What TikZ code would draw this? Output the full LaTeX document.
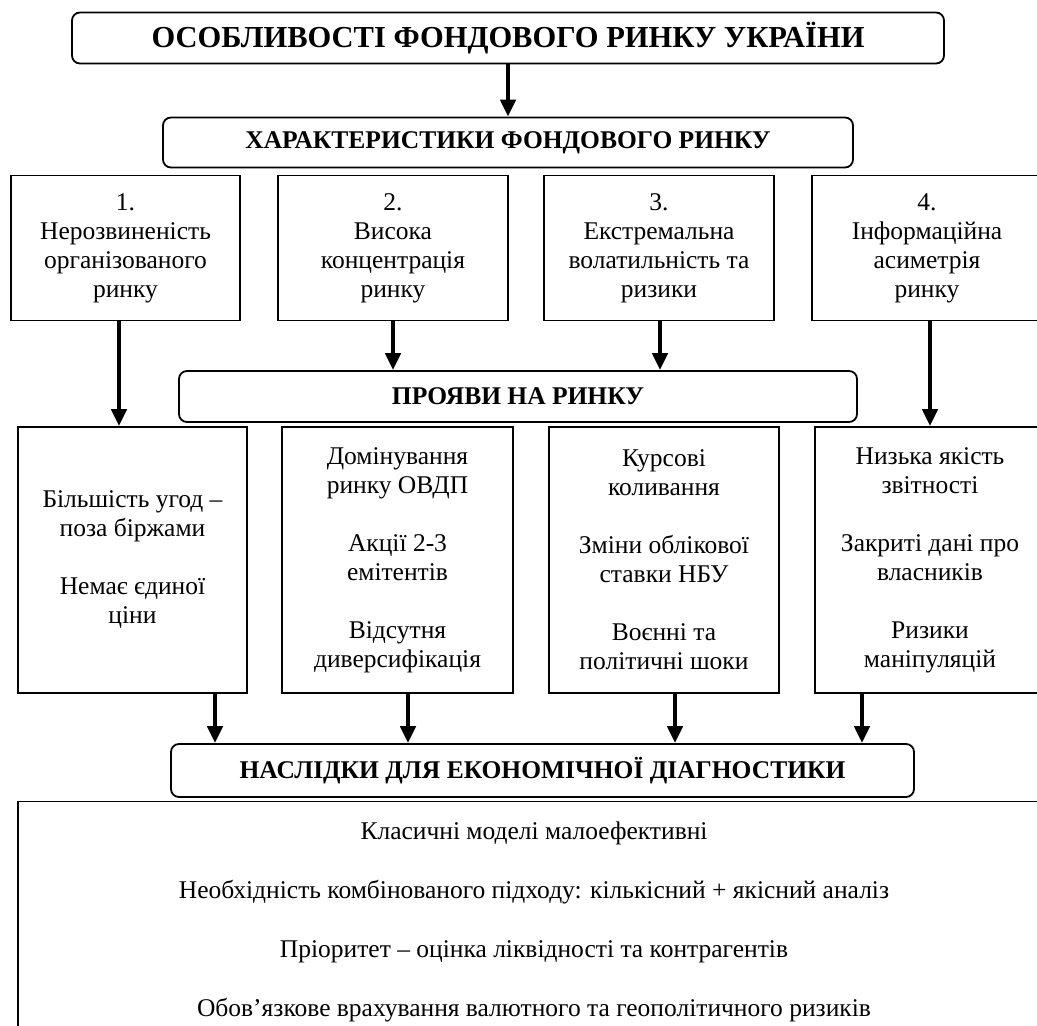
\documentclass[tikz,border=0pt]{standalone}
\usepackage{fontspec}
\setmainfont{Liberation Serif}
\usetikzlibrary{arrows.meta}

\begin{document}
\begin{tikzpicture}[x=1pt, y=-1pt,
    head/.style={draw, line width=1.8pt, rounded corners=8pt, inner sep=0pt,
      font=\bfseries\fontsize{25.5}{29}\selectfont},
    cell/.style={draw, line width=1.8pt, inner sep=0pt, align=center,
      font=\fontsize{25.5}{29}\selectfont},
    arr/.style={line width=4.5pt, -{Triangle[length=17pt,width=15pt]}}]
  \useasboundingbox (0,0) rectangle (1037,1026);
  % top of the scheme
  \node[head, minimum width=872pt, minimum height=51pt, font=\bfseries\fontsize{30.5}{34}\selectfont]
    (title) at (508,38) {ОСОБЛИВОСТІ ФОНДОВОГО РИНКУ УКРАЇНИ};
  \node[head, minimum width=690pt, minimum height=50pt] (chars) at (508,142.5)
    {ХАРАКТЕРИСТИКИ ФОНДОВОГО РИНКУ};
  \draw[arr] (title.south) -- (title.south |- chars.north);

  % characteristics
  \node[cell, minimum width=229pt, minimum height=145pt] (c1) at (125.5,248)
    {1.\\Нерозвиненість\\організованого\\ринку};
  \node[cell, minimum width=230pt, minimum height=145pt] (c2) at (393,248)
    {2.\\Висока\\концентрація\\ринку};
  \node[cell, minimum width=230pt, minimum height=145pt] (c3) at (659,248)
    {3.\\Екстремальна\\волатильність та\\ризики};
  \node[cell, minimum width=230pt, minimum height=145pt] (c4) at (927,248)
    {4.\\Інформаційна\\асиметрія\\ринку};

  \node[head, minimum width=678pt, minimum height=51pt] (shows) at (518,396.5)
    {ПРОЯВИ НА РИНКУ};

  % manifestations
  \node[cell, minimum width=229pt, minimum height=266pt] (m1) at (132.5,560)
    {Більшість угод –\\поза біржами\\[29pt]Немає єдиної\\ціни};
  \node[cell, minimum width=231pt, minimum height=266pt] (m2) at (397.5,560)
    {Домінування\\ринку ОВДП\\[29pt]Акції 2-3\\емітентів\\[29pt]Відсутня\\диверсифікація};
  \node[cell, minimum width=230pt, minimum height=266pt] (m3) at (664,560)
    {Курсові\\коливання\\[29pt]Зміни облікової\\ставки НБУ\\[29pt]Воєнні та\\політичні шоки};
  \node[cell, minimum width=230pt, minimum height=266pt] (m4) at (930,560)
    {Низька якість\\звітності\\[29pt]Закриті дані про\\власників\\[29pt]Ризики\\маніпуляцій};

  \draw[arr] ([xshift=-6.5pt]c1.south) -- ([xshift=-6.5pt]c1.south |- m1.north);
  \draw[arr] (c2.south) -- (c2.south |- shows.north);
  \draw[arr] ([xshift=1pt]c3.south) -- ([xshift=1pt]c3.south |- shows.north);
  \draw[arr] ([xshift=3pt]c4.south) -- ([xshift=3pt]c4.south |- m4.north);

  % consequences
  \node[head, minimum width=743pt, minimum height=53pt] (result) at (542.5,770.5)
    {НАСЛІДКИ ДЛЯ ЕКОНОМІЧНОЇ ДІАГНОСТИКИ};
  \draw[arr] ([xshift=82.5pt]m1.south) -- ([xshift=82.5pt]m1.south |- result.north);
  \draw[arr] ([xshift=10.5pt]m2.south) -- ([xshift=10.5pt]m2.south |- result.north);
  \draw[arr] ([xshift=11pt]m3.south) -- ([xshift=11pt]m3.south |- result.north);
  \draw[arr] ([xshift=-68pt]m4.south) -- ([xshift=-68pt]m4.south |- result.north);

  \node[cell, minimum width=1032pt, minimum height=240pt, font=\fontsize{25.5}{59}\selectfont]
    (outcome) at (534,921.5)
    {Класичні моделі малоефективні\\
     Необхідність комбінованого підходу: кількісний + якісний аналіз\\
     Пріоритет – оцінка ліквідності та контрагентів\\
     Обов’язкове врахування валютного та геополітичного ризиків};
\end{tikzpicture}
\end{document}
